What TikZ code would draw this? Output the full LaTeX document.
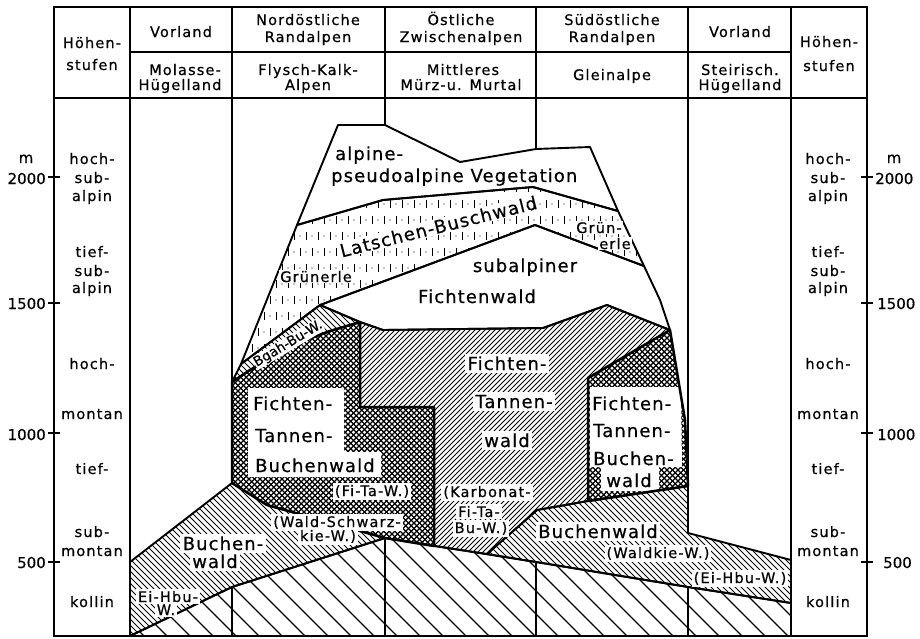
\documentclass[tikz,border=0pt]{standalone}
\usepackage{fontspec}
\setmainfont{DejaVu Sans}
\newfontfamily\hfont[LetterSpace=8,FakeBold=0.6]{DejaVu Sans}
\newfontfamily\bfont[LetterSpace=6,FakeBold=0.6]{DejaVu Sans}
\newfontfamily\afont[FakeBold=0.5]{DejaVu Sans}
\begin{document}
\begin{tikzpicture}[x=1pt,y=-1pt,
 hs/.style={font=\hfont\fontsize{14.5}{16}\selectfont,inner sep=0pt},
 hsw/.style={hs,fill=white,inner sep=2pt},
 bs/.style={font=\bfont\fontsize{18}{20}\selectfont,inner sep=0pt},
 bsw/.style={bs,fill=white,inner sep=2.5pt},
 ax/.style={font=\afont\fontsize{15}{17}\selectfont,inner sep=0pt},
 gridline/.style={line width=1.5pt},
 bound/.style={line width=1.9pt,line join=round},
 heavy/.style={line width=2.5pt,line join=round},
 fine/.style={line width=0.9pt},
 wide/.style={line width=1.3pt},
 xh/.style={line width=1.1pt}]
\useasboundingbox (0,0) rectangle (920,638);

% region outlines
\def\pAlp{(338,125) -- (385,125) -- (460,162) -- (536,149) -- (590,147) -- (618,211) -- (533,187) -- (383,200) -- (297,225) -- cycle}
\def\pLat{(297,225) -- (383,200) -- (533,187) -- (618,211) -- (644,266) -- (535,225) -- (320,305) -- (241,364) -- cycle}
\def\pSub{(320,305) -- (535,225) -- (644,266) -- (660,300) -- (670,330) -- (607,305) -- (543,328) -- (383,330) -- (360,322) -- cycle}
\def\pBga{(232,382) -- (241,364) -- (320,305) -- (360,322) -- (330,331) -- (303,341) -- (275,355) -- (250,370) -- cycle}
\def\pFTBl{(232,382) -- (250,370) -- (275,355) -- (303,341) -- (330,331) -- (360,322) -- (360,407) -- (434,407) -- (434,546) -- (385,538) -- (267,505) -- (232,483) -- cycle}
\def\pFT{(360,322) -- (383,330) -- (543,328) -- (607,305) -- (670,330) -- (588,378) -- (588,501) -- (537,510) -- (487,554) -- (434,546) -- (434,407) -- (360,407) -- cycle}
\def\pFTBr{(670,330) -- (685,420) -- (688,486) -- (588,501) -- (588,378) -- cycle}
\def\pBuR{(487,554) -- (537,510) -- (588,501) -- (688,486) -- (688,533) -- (791,560) -- (791,603) -- (688,587) -- (536,562) -- cycle}
\def\pBuL{(130,562) -- (232,483) -- (267,505) -- (385,538) -- (232,587) -- (130,636) -- cycle}
\def\pKol{(130,636) -- (232,587) -- (385,538) -- (536,562) -- (688,587) -- (791,603) -- (791,636) -- cycle}

% table frame
\draw[gridline] (54,7) rectangle (867,636);
\draw[gridline] (130,52) -- (791,52);
\draw[gridline] (54,98) -- (867,98);
\foreach \x in {130,232,385,536,688,791} \draw[gridline] (\x,7) -- (\x,636);
\foreach \y in {177,303,433,562} {\draw[gridline] (48,\y) -- (60,\y); \draw[gridline] (861,\y) -- (873,\y);}

% kollin
\begin{scope}\clip \pKol; \foreach \x in {15,38,...,800} \draw[wide] (\x,530) -- ++(115,115); \end{scope}
% Buchenwald left
\fill[white] \pBuL;
\begin{scope}\clip \pBuL; \foreach \x in {-50,-44,...,395} \draw[fine] (\x,475) -- ++(170,170); \end{scope}
% Buchenwald right
\fill[white] \pBuR;
\begin{scope}\clip \pBuR; \foreach \x in {340,346,...,800} \draw[fine] (\x,480) -- ++(130,130); \end{scope}
% Fichten-Tannenwald
\fill[white] \pFT;
\begin{scope}\clip \pFT; \foreach \x in {350,355,...,940} \draw[fine] (\x,300) -- ++(-260,260); \end{scope}
% crosshatch left
\fill[white] \pFTBl;
\begin{scope}\clip \pFTBl;
 \foreach \x in {-30,-24.5,...,445} \draw[xh] (\x,310) -- ++(250,250);
 \foreach \x in {220,225.5,...,700} \draw[xh] (\x,310) -- ++(-250,250);
\end{scope}
% crosshatch right
\fill[white] \pFTBr;
\begin{scope}\clip \pFTBr;
 \foreach \x in {385,390.5,...,700} \draw[xh] (\x,320) -- ++(190,190);
 \foreach \x in {575,580.5,...,890} \draw[xh] (\x,320) -- ++(-190,190);
\end{scope}
% Bgah band
\fill[white] \pBga;
\begin{scope}\clip \pBga; \foreach \x in {140,146,...,370} \draw[fine] (\x,300) -- ++(90,90); \end{scope}
% alpine, subalpine
\fill[white] \pAlp;
\fill[white] \pSub;
% Latschen
\fill[white] \pLat;
\begin{scope}\clip \pLat;
 \foreach \yy in {184,216,...,395} \foreach \xx in {228,240,...,660} {\draw[fine] (\xx,\yy) -- ++(0,8); \fill (\xx+6,\yy+4) circle (0.6);}
 \foreach \yy in {200,232,...,395} \foreach \xx in {234,246,...,660} {\draw[fine] (\xx,\yy) -- ++(0,8); \fill (\xx+6,\yy+4) circle (0.6);}
\end{scope}

% white label areas
\fill[white] (248,388) -- (344,388) -- (344,452) -- (381,452) -- (381,477) -- (248,477) -- cycle;
\fill[white] (590,387) -- (681,387) -- (682,467) -- (659,467) -- (659,491) -- (601,491) -- (601,467) -- (590,467) -- cycle;

% outlines
\draw[bound] \pAlp;
\draw[bound] \pLat;
\draw[bound] \pSub;
\draw[bound] \pBga;
\draw[bound] \pFT;
\draw[bound] \pBuL;
\draw[bound] \pBuR;
\draw[bound] \pKol;
\draw[heavy] \pFTBl;
\draw[heavy] \pFTBr;

% header texts
\node[hs,anchor=base] (hL1) at (92,48) {Höhen-};
\node[hs,anchor=base] (hL2) at (92,70) {stufen};
\node[hs,anchor=base] (hR1) at (829,47) {Höhen-};
\node[hs,anchor=base] (hR2) at (829,71) {stufen};
\node[hs,anchor=base] (vL) at (181,37) {Vorland};
\node[hs,anchor=base] (nA) at (308,25) {Nordöstliche};
\node[hs,anchor=base] (nB) at (308,42) {Randalpen};
\node[hs,anchor=base] (oA) at (461,25) {Östliche};
\node[hs,anchor=base] (oB) at (461,42) {Zwischenalpen};
\node[hs,anchor=base] (sA) at (612,25) {Südöstliche};
\node[hs,anchor=base] (sB) at (612,42) {Randalpen};
\node[hs,anchor=base] (vR) at (740,37) {Vorland};
\node[hs,anchor=base] (mA) at (185,75) {Molasse-};
\node[hs,anchor=base] (mB) at (180,90) {Hügelland};
\node[hs,anchor=base] (fA) at (308,75) {Flysch-Kalk-};
\node[hs,anchor=base] (fB) at (308,90) {Alpen};
\node[hs,anchor=base] (miA) at (463,75) {Mittleres};
\node[hs,anchor=base] (miB) at (461,90) {Mürz-u. Murtal};
\node[hs,anchor=base] (gA) at (612,80) {Gleinalpe};
\node[hs,anchor=base] (stA) at (740,75) {Steirisch.};
\node[hs,anchor=base] (stB) at (740,90) {Hügelland};

% axis
\node[ax,anchor=base] (mL) at (26,163) {m};
\node[ax,anchor=base] (mR) at (894,163) {m};
\node[ax,anchor=base east] (a2L) at (46,184) {2000};
\node[ax,anchor=base east] (a15L) at (46,309) {1500};
\node[ax,anchor=base east] (a1L) at (46,440) {1000};
\node[ax,anchor=base east] (a5L) at (46,568) {500};
\node[ax,anchor=base west] (a2R) at (875,184) {2000};
\node[ax,anchor=base west] (a15R) at (877,309) {1500};
\node[ax,anchor=base west] (a1R) at (877,440) {1000};
\node[ax,anchor=base west] (a5R) at (883,568) {500};

% Hoehenstufen columns
\foreach \xc/\s in {92/L,828/R} {
 \node[hs,anchor=base] (hs1\s) at (\xc,164) {hoch-};
 \node[hs,anchor=base] (hs2\s) at (\xc,183) {sub-};
 \node[hs,anchor=base] (hs3\s) at (\xc,201) {alpin};
 \node[hs,anchor=base] (hs4\s) at (\xc,257) {tief-};
 \node[hs,anchor=base] (hs5\s) at (\xc,276) {sub-};
 \node[hs,anchor=base] (hs6\s) at (\xc,293) {alpin};
 \node[hs,anchor=base] (hs7\s) at (\xc,369) {hoch-};
 \node[hs,anchor=base] (hs8\s) at (\xc,419) {montan};
 \node[hs,anchor=base] (hs9\s) at (\xc,474) {tief-};
 \node[hs,anchor=base] (hs10\s) at (\xc,537) {sub-};
 \node[hs,anchor=base] (hs11\s) at (\xc,556) {montan};
 \node[hs,anchor=base] (hs12\s) at (\xc,607) {kollin};
}

% vegetation labels
\node[bs,anchor=base west] (alpA) at (335,160) {alpine-};
\node[bs,anchor=base west] (alpB) at (331,182) {pseudoalpine Vegetation};
\node[bsw,anchor=base,rotate=14,inner sep=1pt] (lat) at (440,233) {Latschen-Buschwald};
\node[hsw,anchor=base,inner sep=1pt] (gr1) at (316,282) {Grünerle};
\node[hsw,anchor=base,inner sep=1pt] (gr2) at (599,233) {Grün-};
\node[hsw,anchor=base,inner sep=1pt] (gr3) at (615,249) {erle};
\node[bs,anchor=base] (sub1) at (525,272) {subalpiner};
\node[bs,anchor=base] (sub2) at (477,303) {Fichtenwald};
\node[fill=white,anchor=base,rotate=31,inner sep=0.5pt,font=\afont\fontsize{13.5}{15}\selectfont] (bga) at (290,347) {Bgah-Bu-W.};

\node[bs,anchor=base west] (flA) at (253,410) {Fichten-};
\node[bs,anchor=base west] (flB) at (255,442) {Tannen-};
\node[bs,anchor=base west] (flC) at (255,472) {Buchenwald};
\node[hsw,anchor=base] (flD) at (372,496) {(Fi-Ta-W.)};

\node[bsw,anchor=base] (ftA) at (507,370) {Fichten-};
\node[bsw,anchor=base] (ftB) at (514,408) {Tannen-};
\node[bsw,anchor=base] (ftC) at (507,447) {wald};
\node[hsw,anchor=base] (ftD) at (487,497) {(Karbonat-};
\node[hsw,anchor=base] (ftE) at (479,517) {Fi-Ta-};
\node[hsw,anchor=base] (ftF) at (481,533) {Bu-W.)};

\node[bs,anchor=base west] (frA) at (592,410) {Fichten-};
\node[bs,anchor=base west] (frB) at (593,437) {Tannen-};
\node[bs,anchor=base west] (frC) at (593,465) {Buchen-};
\node[bs,anchor=base] (frD) at (629,487) {wald};

\node[bsw,anchor=base] (blA) at (223,550) {Buchen-};
\node[bsw,anchor=base] (blB) at (215,568) {wald};
\node[hsw,anchor=base] (eiA) at (168,602) {Ei-Hbu-};
\node[hsw,anchor=base] (eiB) at (166,615) {W.};
\node[hsw,anchor=base] (wsA) at (337,527) {(Wald-Schwarz-};
\node[hsw,anchor=base] (wsB) at (328,541) {kie-W.)};
\node[bsw,anchor=base] (brA) at (598,538) {Buchenwald};
\node[hsw,anchor=base] (brB) at (658,558) {(Waldkie-W.)};
\node[hsw,anchor=base] (brC) at (740,583) {(Ei-Hbu-W.)};
\end{tikzpicture}
\end{document}
